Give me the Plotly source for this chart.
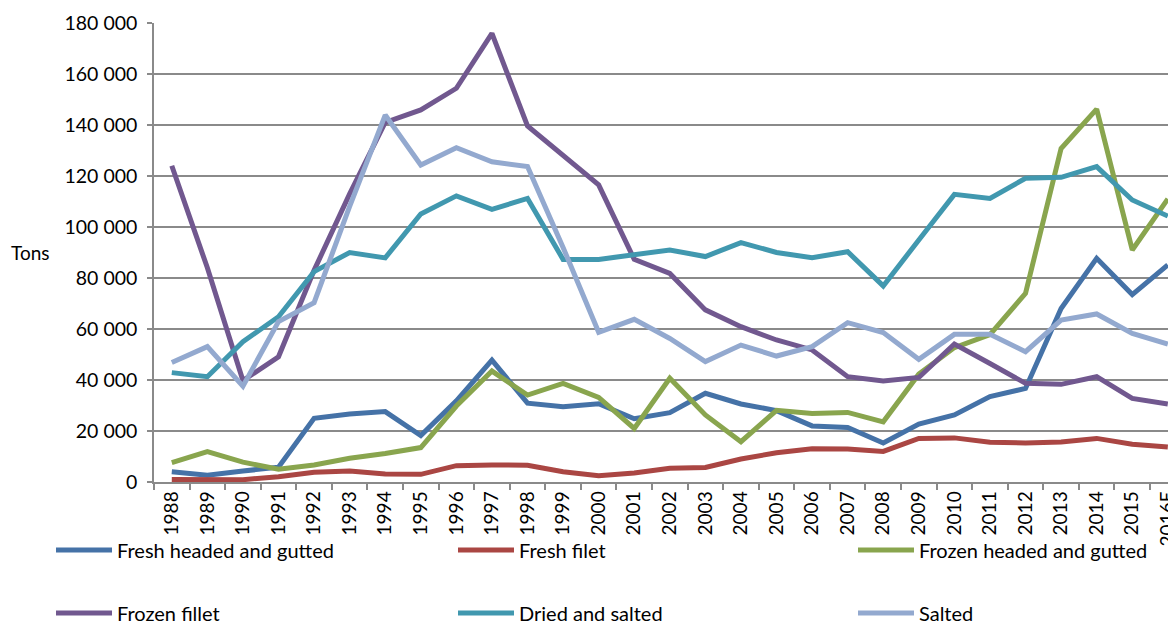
import plotly.graph_objects as go

years = [str(y) for y in range(1988, 2016)] + ["2016E"]

fresh_hg = [4000, 2700, 4300, 5800, 25000, 26700, 27600, 18200, 31800, 47800,
            30900, 29500, 30700, 24800, 27200, 34800, 30600, 28000, 22000, 21400,
            15300, 22700, 26300, 33500, 36700, 68000, 87700, 73500, 85100]
fresh_filet = [1000, 800, 900, 2100, 3800, 4300, 3100, 3000, 6400, 6700,
               6600, 4000, 2500, 3500, 5400, 5700, 9000, 11500, 13000, 12900,
               12000, 17100, 17300, 15600, 15300, 15700, 17100, 14800, 13700]
frozen_hg = [7600, 11900, 7800, 5000, 6700, 9300, 11200, 13500, 29800, 43500,
             34100, 38700, 33200, 21000, 40700, 26300, 15800, 28100, 26900, 27300,
             23600, 42300, 52700, 57800, 74000, 130800, 146200, 91000, 111000]
frozen_fillet = [124000, 84000, 39800, 49100, 83000, 113000, 141000, 145900, 154400, 175900,
                 139600, 128200, 116500, 87300, 81800, 67500, 60900, 55700, 51800, 41300,
                 39600, 41000, 54100, 46500, 38700, 38300, 41300, 32800, 30600]
dried_salted = [42900, 41300, 55000, 64800, 82500, 90000, 87900, 105100, 112200, 106900,
                111200, 87300, 87300, 89000, 91000, 88400, 93900, 90000, 88000, 90300,
                76900, 94900, 112800, 111200, 119100, 119500, 123700, 110600, 104300]
salted = [46900, 53100, 37600, 62900, 70300, 108100, 143900, 124300, 131100, 125600,
          123700, 92000, 58700, 63800, 56300, 47200, 53700, 49400, 53100, 62500,
          58600, 48100, 57900, 57900, 51100, 63500, 65900, 58300, 54100]

names = ["Fresh headed and gutted", "Fresh filet", "Frozen headed and gutted",
         "Frozen fillet", "Dried and salted", "Salted"]
values = [fresh_hg, fresh_filet, frozen_hg, frozen_fillet, dried_salted, salted]
colors = ["#4572A7", "#AA4643", "#89A54E", "#71588F", "#4198AF", "#93A9CF"]

font = "Lato, Carlito, Calibri, sans-serif"
grid = "#8a8a8a"

# page body has an 8px margin, so the figure is a bit smaller than the window
W, H = 1168, 613

# legend slots: 3 columns x 2 rows, in figure pixels
leg_x = [43, 445, 845]
leg_y = [542, 605]

fig = go.Figure()
legends = {}
for i, (name, vals, color) in enumerate(zip(names, values, colors)):
    key = "legend" if i == 0 else "legend%d" % (i + 1)
    fig.add_trace(go.Scatter(x=years, y=vals, name=name, mode="lines",
                             line=dict(color=color, width=5),
                             legend=key))
    legends[key] = dict(orientation="h", xref="container", yref="container",
                        x=leg_x[i % 3] / W, y=1 - leg_y[i // 3] / H,
                        xanchor="left", yanchor="middle", itemwidth=56,
                        font=dict(family=font, size=20, color="#000"),
                        bgcolor="rgba(0,0,0,0)")

fig.update_layout(
    width=W, height=H,
    margin=dict(l=146, r=0, t=15, b=139, autoexpand=False),
    paper_bgcolor="white", plot_bgcolor="white",
    font=dict(family=font, size=19, color="#000"),
    separators=", ",
    showlegend=True,
    xaxis=dict(type="category", range=[-0.5, 28.23], tickson="boundaries",
               ticks="outside", ticklen=6, tickcolor=grid, tickwidth=1.5,
               showline=True, linecolor=grid, linewidth=1.5,
               showgrid=False, tickangle=-90, automargin=False,
               tickfont=dict(family=font, size=19, color="#000")),
    yaxis=dict(range=[0, 180000], dtick=20000, tickformat=",d",
               ticks="outside", ticklen=5, tickcolor=grid, tickwidth=1.5,
               showline=True, linecolor=grid, linewidth=1.5,
               showgrid=True, gridcolor=grid, gridwidth=1.5,
               zeroline=False, ticklabelstandoff=6, automargin=False,
               tickfont=dict(family=font, size=19.5, color="#000")),
    annotations=[dict(text="Tons", xref="paper", yref="y", x=0, y=90000,
                      xanchor="right", yanchor="middle", xshift=-102,
                      showarrow=False,
                      font=dict(family=font, size=19, color="#000"))],
    **legends,
)

fig.write_html("out.html")
